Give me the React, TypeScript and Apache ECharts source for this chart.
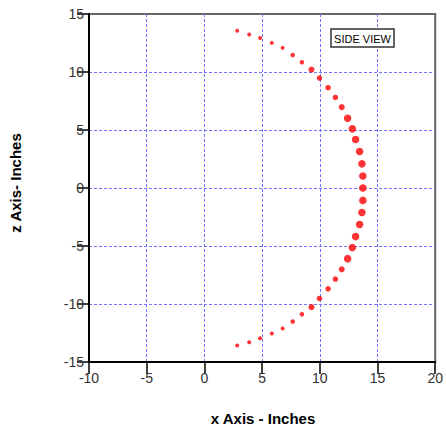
import React, { useEffect, useRef } from "react";
import * as echarts from "echarts";

const xValues = [
  2.84, 3.88, 4.83, 5.84, 6.78, 7.65, 8.45, 9.28, 9.97, 10.72, 11.35, 11.9, 12.41, 12.82, 13.1, 13.45, 13.65, 13.73,
  13.73,
  13.73, 13.65, 13.45, 13.1, 12.82, 12.41, 11.9, 11.35, 10.72, 9.97, 9.28, 8.45, 7.65, 6.78, 5.84, 4.83, 3.88, 2.84,
];
const zValues = [
  13.55, 13.24, 12.94, 12.51, 12.08, 11.47, 10.84, 10.21, 9.48, 8.65, 7.81, 6.97, 6.02, 5.1, 4.18, 3.14, 2.08, 1.04,
  0,
  -1.07, -2.11, -3.15, -4.19, -5.14, -6.09, -7.01, -7.85, -8.69, -9.52, -10.27, -10.88, -11.51, -12.11, -12.55, -12.95, -13.3, -13.58,
];
const markerSizes = [
  4, 4, 4, 4, 4, 4.5, 4.5, 6, 5.5, 5.5, 5.5, 6, 7.5, 7.5, 7.5, 7.5, 7.5, 7.5,
  7.5,
  7.5, 7.5, 7.5, 7.5, 7.5, 7.5, 6, 5.5, 5.5, 5.5, 6, 4.5, 4.5, 4, 4, 4, 4, 4,
];
const xTitle = "x Axis - Inches";
const zTitle = "z Axis- Inches";
const legendLabel = "SIDE VIEW";

const FONT = "Liberation Sans, Arial, sans-serif";

function makeSplitLine() {
  return {
    show: true,
    showMinLine: false,
    showMaxLine: false,
    lineStyle: { color: "#7373ff", type: [3, 2], width: 1 },
  };
}

export default function App() {
  const ref = useRef<HTMLDivElement>(null);
  useEffect(() => {
    document.body.style.margin = "0";
    const chart = echarts.init(ref.current!, null, { renderer: "svg" });
    const data = xValues.map((x, i) => ({
      value: [x, zValues[i]],
      symbolSize: markerSizes[i],
    }));
    chart.setOption({
      animation: false,
      backgroundColor: "#fff",
      grid: {
        left: 89,
        right: 9,
        top: 14,
        bottom: 68,
        show: true,
        borderColor: "#666",
        borderWidth: 2,
        backgroundColor: "transparent",
      },
      xAxis: {
        type: "value",
        min: -10,
        max: 20,
        interval: 5,
        axisLine: { show: true, onZero: false, lineStyle: { color: "#000", width: 2 } },
        axisTick: { show: true, length: 12, lineStyle: { color: "#000", width: 1.5 } },
        axisLabel: { color: "#333", fontSize: 14, fontFamily: FONT, margin: 9 },
        splitLine: makeSplitLine(),
      },
      yAxis: {
        type: "value",
        min: -15,
        max: 15,
        interval: 5,
        axisLine: { show: true, onZero: false, lineStyle: { color: "#000", width: 2 } },
        axisTick: { show: true, length: 12, lineStyle: { color: "#000", width: 1.5 } },
        axisLabel: { color: "#333", fontSize: 14, fontFamily: FONT, margin: 5 },
        splitLine: makeSplitLine(),
      },
      series: [
        {
          type: "scatter",
          symbol: "circle",
          itemStyle: { color: "#ff0000" },
          data,
        },
      ],
      graphic: [
        {
          type: "text",
          x: 263,
          y: 418,
          style: {
            text: xTitle,
            font: "bold 15px " + FONT,
            fill: "#000",
            align: "center",
            verticalAlign: "middle",
          },
        },
        {
          type: "text",
          x: 15,
          y: 183,
          rotation: Math.PI / 2,
          style: {
            text: zTitle,
            font: "bold 15px " + FONT,
            fill: "#000",
            align: "center",
            verticalAlign: "middle",
          },
        },
        {
          type: "rect",
          shape: { x: 331, y: 29, width: 63, height: 18 },
          style: { fill: "#fff", stroke: "#333", lineWidth: 1.5 },
          z: 100,
        },
        {
          type: "text",
          x: 362.5,
          y: 38.5,
          z: 101,
          style: {
            text: legendLabel,
            font: "11px " + FONT,
            fill: "#000",
            align: "center",
            verticalAlign: "middle",
          },
        },
      ],
    });
    return () => chart.dispose();
  }, []);
  return <div ref={ref} style={{ width: 446, height: 430 }} />;
}
